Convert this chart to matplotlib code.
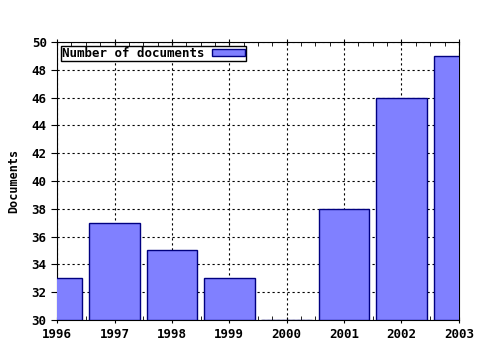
import matplotlib.pyplot as plt
import numpy as np
from matplotlib.ticker import MultipleLocator

years = [1996, 1997, 1998, 1999, 2000, 2001, 2002, 2003]
docs = [33, 37, 35, 33, 30, 38, 46, 49]

plt.rcParams['font.family'] = 'DejaVu Sans Mono'
plt.rcParams['font.weight'] = 'bold'

fig = plt.figure(figsize=(4.8, 3.5), dpi=100)
ax = fig.add_axes([0.119, 0.086, 0.837, 0.794])

bottom = 30
heights = np.array(docs) - bottom
ax.bar(years, heights, bottom=bottom, width=0.88, color='#8080ff',
       edgecolor='#000080', linewidth=1.0, label='Number of documents', zorder=3)

ax.set_xlim(1996, 2003)
ax.set_ylim(30, 50)
ax.set_xticks(years)
ax.set_yticks(range(30, 51, 2))
ax.xaxis.set_minor_locator(MultipleLocator(0.25))
ax.grid(True, which='major', color='black', linestyle=(0, (2, 2.5)), linewidth=0.8, zorder=1)
ax.tick_params(axis='both', which='major', labelsize=9, length=4, direction='inout',
               top=True, color='black')
ax.tick_params(axis='x', which='minor', length=3, direction='in', top=True)
ax.tick_params(axis='y', which='major', direction='out', length=4)
for lbl in ax.get_xticklabels() + ax.get_yticklabels():
    lbl.set_fontweight('bold')

ax.set_ylabel('Documents', fontsize=8.5, fontweight='bold', labelpad=8)

leg = ax.legend(loc='upper left', fontsize=9, frameon=True, fancybox=False,
                borderpad=0.1, handlelength=2.6, handleheight=0.55,
                borderaxespad=0.3, markerfirst=False, handletextpad=0.6)
leg.get_frame().set_edgecolor('black')
leg.get_frame().set_linewidth(1.0)
leg.get_frame().set_alpha(1)

fig.savefig('out.png', dpi=100)
